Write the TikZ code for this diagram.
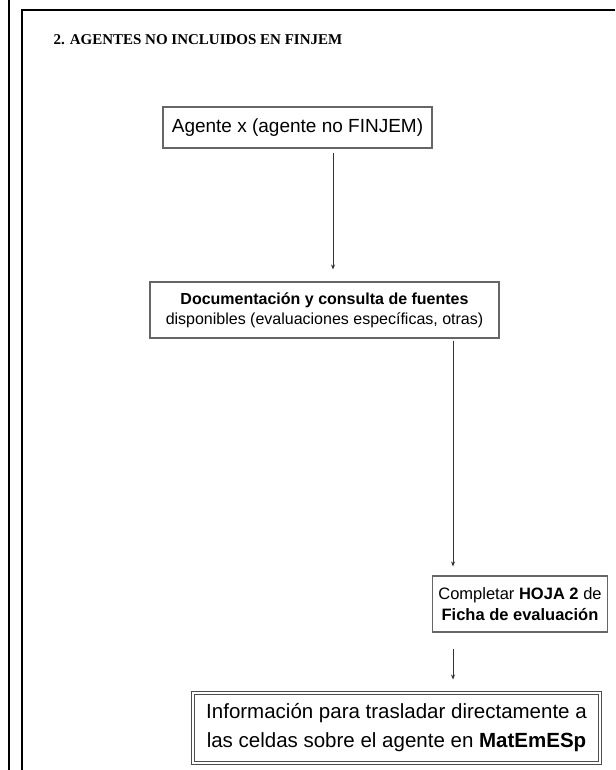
\documentclass[tikz,border=0pt]{standalone}
\usepackage{fontspec}
\setmainfont{Liberation Sans}
\newfontfamily\titlefont{Liberation Serif}
\usetikzlibrary{arrows.meta}

\begin{document}
\begin{tikzpicture}[x=1pt,y=-1pt,
  bnode/.style={draw=black!60,line width=1.1pt,fill=white,inner sep=0pt,align=center},
  conn/.style={-{Stealth[length=5pt,width=4pt]},line width=0.7pt,draw=black!80}]
  \useasboundingbox (0,0) rectangle (615,770);
  % page frame
  \draw[line width=2pt] (9,0) -- (9,770);
  \draw[line width=2pt] (22,770) -- (22,10) -- (615,10);
  \node[anchor=west,font=\titlefont\bfseries\fontsize{15}{18}\selectfont] (T) at (50,40) {2. AGENTES NO INCLUIDOS EN FINJEM};
  % boxes
  \node[bnode,minimum width=269pt,minimum height=41pt,font=\fontsize{19}{22}\selectfont] (A) at (297.5,127.5) {Agente x (agente no FINJEM)};
  \node[bnode,minimum width=349pt,minimum height=56pt,font=\fontsize{16}{20}\selectfont] (B) at (324.5,310) {\textbf{Documentación y consulta de fuentes}\\disponibles (evaluaciones específicas, otras)};
  \node[bnode,minimum width=175pt,minimum height=56pt,font=\fontsize{16.5}{21}\selectfont] (C) at (520,604) {Completar \textbf{HOJA 2} de\\\textbf{Ficha de evaluación}};
  \node[bnode,draw=black!70,double=white,double distance=1.5pt,line width=1pt,minimum width=407pt,minimum height=70pt,font=\fontsize{20.5}{29}\selectfont] (D) at (396.5,728) {Información para trasladar directamente a\\las celdas sobre el agente en \textbf{MatEmESp}};
  % connectors
  \coordinate (k1) at (333,0);
  \coordinate (k2) at (453,0);
  \draw[conn,shorten <=4pt,shorten >=12pt] (A.south -| k1) -- (B.north -| k1);
  \draw[conn,shorten <=2pt,shorten >=9pt] (B.south -| k2) -- (C.north -| k2);
  \draw[conn,shorten <=16pt,shorten >=13pt] (C.south -| k2) -- (D.north -| k2);
\end{tikzpicture}
\end{document}
